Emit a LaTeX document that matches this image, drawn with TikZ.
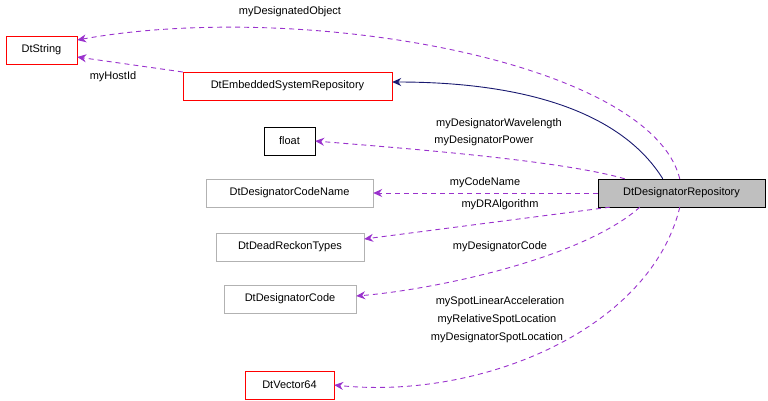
\documentclass[tikz,border=0pt]{standalone}
\usepackage{fontspec}
\setmainfont{Liberation Sans}
\usetikzlibrary{positioning, arrows.meta}
\definecolor{edgepurple}{HTML}{9A32CD}
\definecolor{edgenavy}{HTML}{191970}
\definecolor{boxgray}{HTML}{BFBFBF}

\begin{document}
\begin{tikzpicture}[
    x=1pt, y=-1pt,
    every node/.style={font=\fontsize{11}{13}\selectfont},
    cls/.style={draw, rectangle, minimum height=28pt, inner sep=0pt, fill=white},
    redcls/.style={cls, draw=red},
    graycls/.style={cls, draw=black!30},
    usage/.style={-{Stealth[length=9pt, width=8pt]}, dash pattern=on 5pt off 4pt, edgepurple, line width=0.9pt},
    inherit/.style={-{Stealth[length=9pt, width=8pt]}, edgenavy, line width=0.9pt},
    lbl/.style={inner sep=1pt}
]
    \useasboundingbox (0,0) rectangle (768,400);

    % Classes
    \node[redcls, minimum width=71pt] (str) at (41.5,50) {DtString};
    \node[redcls, minimum width=209pt] (emb) at (287.5,86) {DtEmbeddedSystemRepository};
    \node[cls, minimum width=51pt] (flt) at (289.5,141) {float};
    \node[graycls, minimum width=167pt] (cname) at (289.5,193) {DtDesignatorCodeName};
    \node[graycls, minimum width=148pt] (drt) at (290,247) {DtDeadReckonTypes};
    \node[graycls, minimum width=132pt] (dcode) at (290,299) {DtDesignatorCode};
    \node[redcls, minimum width=89pt] (vec) at (289.5,385) {DtVector64};
    \node[cls, fill=boxgray, minimum width=167pt] (rep) at (681.5,193) {DtDesignatorRepository};

    % Connectors
    \draw[inherit] (rep.north west) ++(65,0) .. controls (620,110) and (520,82) .. (emb.east |- 0,82);
    \draw[usage] (rep.north west) ++(82,0) .. controls (650,60) and (300,0) .. (str.east |- 0,40);
    \draw[usage] (emb.west |- 0,72) -- (str.east |- 0,57);
    \draw[usage] (rep.north west) ++(27,0) .. controls (560,160) and (400,148) .. (flt.east);
    \draw[usage] (rep.west) -- (cname.east);
    \draw[usage] (rep.south west) ++(12,0) -- (drt.east |- 0,239);
    \draw[usage] (rep.south west) ++(42,0) .. controls (580,260) and (430,290) .. (dcode.east |- 0,296);
    \draw[usage] (rep.south west) ++(82,0) .. controls (650,330) and (480,400) .. (vec.east);

    % Labels
    \node[lbl] (l1) at (290,12) {myDesignatedObject};
    \node[lbl] (l2) at (113,77) {myHostId};
    \node[lbl] (l3) at (499,124) {myDesignatorWavelength};
    \node[lbl] (l4) at (484,141) {myDesignatorPower};
    \node[lbl] (l5) at (485,183) {myCodeName};
    \node[lbl] (l6) at (500,205) {myDRAlgorithm};
    \node[lbl] (l7) at (500,247) {myDesignatorCode};
    \node[lbl] (l8) at (500,302) {mySpotLinearAcceleration};
    \node[lbl] (l9) at (497,320) {myRelativeSpotLocation};
    \node[lbl] (l10) at (497,338) {myDesignatorSpotLocation};
\end{tikzpicture}
\end{document}
